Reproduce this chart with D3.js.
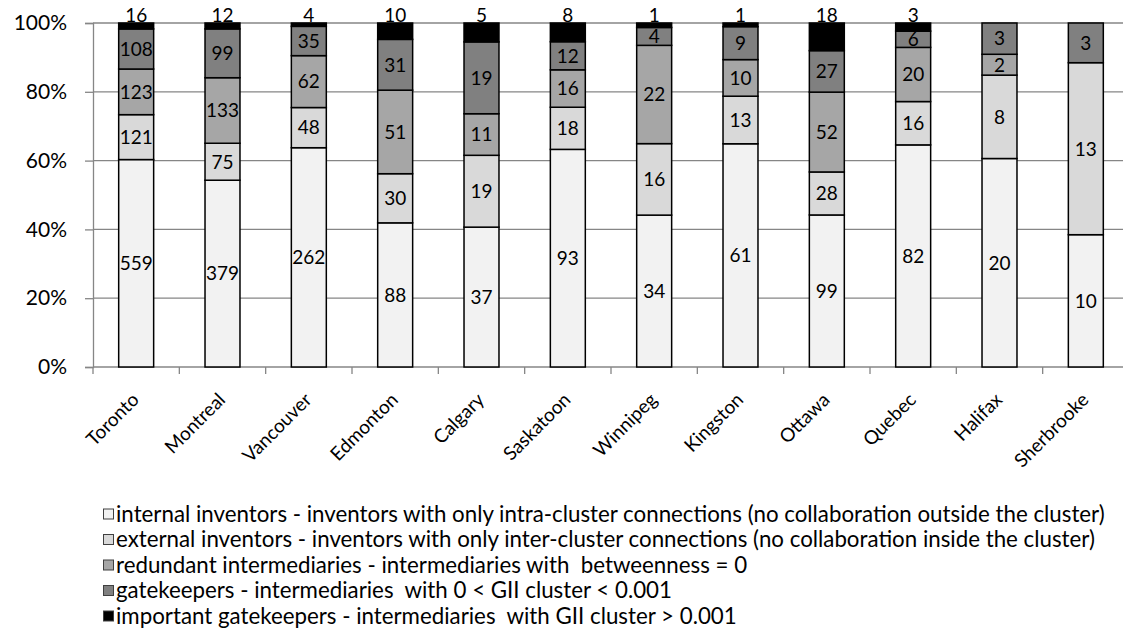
<!DOCTYPE html>
<html>
<head>
<meta charset="utf-8">
<script src="https://cdn.jsdelivr.net/npm/d3@7"></script>
<style>
    body { margin: 0; background: #fff; }
    svg { display: block; font-family: Lato, 'Noto Sans', sans-serif; }
</style>
</head>
<body>
<div id="chart"></div>
<script>
// Dati
const cities = ['Toronto', 'Montreal', 'Vancouver', 'Edmonton', 'Calgary', 'Saskatoon',
    'Winnipeg', 'Kingston', 'Ottawa', 'Quebec', 'Halifax', 'Sherbrooke'];
const internalInventors = [559, 379, 262, 88, 37, 93, 34, 61, 99, 82, 20, 10];
const externalInventors = [121, 75, 48, 30, 19, 18, 16, 13, 28, 16, 8, 13];
const redundantIntermediaries = [123, 133, 62, 51, 11, 16, 22, 10, 52, 20, 2, 0];
const gatekeepers = [108, 99, 35, 31, 19, 12, 4, 9, 27, 6, 3, 3];
const importantGatekeepers = [16, 12, 4, 10, 5, 8, 1, 1, 18, 3, 0, 0];
const yTicks = [0, 0.2, 0.4, 0.6, 0.8, 1];

const series = [
    { key: 'internal', values: internalInventors, color: '#f2f2f2',
      label: 'internal inventors - inventors with only intra-cluster connections (no collaboration outside the cluster)' },
    { key: 'external', values: externalInventors, color: '#d9d9d9',
      label: 'external inventors - inventors with only inter-cluster connections (no collaboration inside the cluster)' },
    { key: 'redundant', values: redundantIntermediaries, color: '#a6a6a6',
      label: 'redundant intermediaries - intermediaries with  betweenness = 0' },
    { key: 'gate', values: gatekeepers, color: '#808080',
      label: 'gatekeepers - intermediaries  with 0 < GII cluster < 0.001' },
    { key: 'important', values: importantGatekeepers, color: '#000000',
      label: 'important gatekeepers - intermediaries  with GII cluster > 0.001' }
];

const width = 1123;
const height = 635;
const margin = { top: 23, left: 93, bottom: 268 };
const plotRight = 1129;

const svg = d3.select('#chart')
    .append('svg')
    .attr('width', width)
    .attr('height', height);

// Tabella per lo stack (valori in proporzione)
const table = cities.map((c, i) => {
    const row = { city: c };
    let total = 0;
    series.forEach(s => { total += s.values[i]; });
    series.forEach(s => { row[s.key] = s.values[i] / total; row[s.key + '_n'] = s.values[i]; });
    return row;
});
const stacked = d3.stack().keys(series.map(s => s.key))(table);

const x = d3.scaleBand()
    .domain(cities)
    .range([margin.left, plotRight])
    .paddingInner(0.595)
    .paddingOuter(0.2975);

const y = d3.scaleLinear()
    .domain([0, 1])
    .range([height - margin.bottom, margin.top]);

// Griglia
svg.append('g')
    .selectAll('line')
    .data(yTicks.filter(d => d > 0))
    .join('line')
    .attr('x1', margin.left)
    .attr('x2', plotRight)
    .attr('y1', d => y(d))
    .attr('y2', d => y(d))
    .attr('stroke', '#868686')
    .attr('stroke-width', 1.3);

// Asse Y
const yAxis = svg.append('g')
    .attr('transform', `translate(${margin.left},0)`)
    .call(d3.axisLeft(y).tickValues(yTicks).tickFormat(d3.format('.0%')).tickSize(8).tickPadding(18));
yAxis.select('.domain').attr('stroke', '#868686').attr('stroke-width', 1.3);
yAxis.selectAll('.tick line').attr('stroke', '#868686').attr('stroke-width', 1.3);
yAxis.selectAll('text').attr('font-size', 21).attr('fill', '#000').attr('font-family', 'Lato');

// Asse X (tacche ai bordi delle categorie)
const step = x.step();
const boundaries = d3.range(cities.length + 1).map(i => margin.left + i * step);
svg.append('line')
    .attr('x1', margin.left).attr('x2', plotRight)
    .attr('y1', y(0)).attr('y2', y(0))
    .attr('stroke', '#868686').attr('stroke-width', 1.3);
svg.append('g')
    .selectAll('line')
    .data(boundaries)
    .join('line')
    .attr('x1', d => d).attr('x2', d => d)
    .attr('y1', y(0)).attr('y2', y(0) + 7)
    .attr('stroke', '#868686').attr('stroke-width', 1.3);

// Barre
const layers = svg.append('g')
    .selectAll('g')
    .data(stacked)
    .join('g')
    .attr('fill', (d, i) => series[i].color);

layers.selectAll('rect')
    .data(d => d)
    .join('rect')
    .attr('x', d => x(d.data.city))
    .attr('width', x.bandwidth())
    .attr('y', d => y(d[1]))
    .attr('height', d => y(d[0]) - y(d[1]))
    .attr('stroke', '#000')
    .attr('stroke-width', 1.5);

// Etichette dei valori
stacked.forEach((layer, li) => {
    const key = series[li].key;
    svg.append('g')
        .selectAll('text')
        .data(layer.filter(d => d.data[key + '_n'] > 0))
        .join('text')
        .attr('x', d => x(d.data.city) + x.bandwidth() / 2)
        .attr('y', d => key === 'important' ? y(1) - 1 : (y(d[0]) + y(d[1])) / 2)
        .attr('dy', key === 'important' ? 0 : '0.36em')
        .attr('text-anchor', 'middle')
        .attr('font-size', 19)
        .attr('fill', '#000')
        .text(d => d.data[key + '_n']);
});

// Etichette categorie ruotate
svg.append('g')
    .selectAll('text')
    .data(cities)
    .join('text')
    .attr('transform', d => `translate(${x(d) + x.bandwidth() / 2 + 4},${y(0) + 34}) rotate(-45)`)
    .attr('text-anchor', 'end')
    .attr('font-size', 19)
    .text(d => d);

// Legenda
const legend = svg.append('g')
    .selectAll('g')
    .data(series)
    .join('g')
    .attr('transform', (d, i) => `translate(103,${514 + i * 25.5})`);

legend.append('rect')
    .attr('x', 0.5)
    .attr('y', -5)
    .attr('width', 10)
    .attr('height', 10)
    .attr('fill', d => d.color)
    .attr('stroke', '#404040')
    .attr('stroke-width', 1);

legend.append('text')
    .attr('x', 13)
    .attr('dy', '0.35em')
    .attr('font-size', 22.3)
    .style('white-space', 'pre')
    .text(d => d.label);
</script>
</body>
</html>
